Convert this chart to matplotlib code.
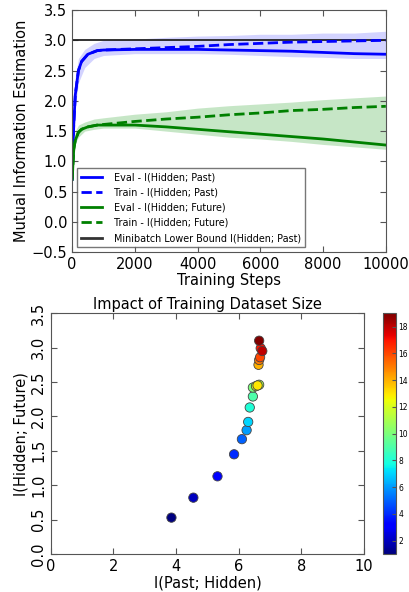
import matplotlib
matplotlib.use('Agg')
import matplotlib.pyplot as plt
import numpy as np

# ─── Data ─────────────────────────────────────────────────────
steps = [0, 50, 100, 200, 300, 500, 800, 1000, 2000, 3000, 4000,
         5000, 6000, 7000, 8000, 9000, 10000]
eval_past = [0.7, 1.6, 2.1, 2.5, 2.65, 2.77, 2.83, 2.84, 2.85, 2.85, 2.85,
             2.84, 2.83, 2.82, 2.80, 2.78, 2.77]
train_past = [0.7, 1.6, 2.1, 2.5, 2.65, 2.77, 2.83, 2.84, 2.86, 2.88, 2.90,
              2.93, 2.95, 2.97, 2.98, 2.99, 3.00]
eval_future = [0.7, 1.2, 1.35, 1.48, 1.53, 1.57, 1.60, 1.60, 1.60, 1.57, 1.53,
               1.49, 1.45, 1.41, 1.37, 1.32, 1.27]
train_future = [0.7, 1.2, 1.35, 1.48, 1.53, 1.57, 1.60, 1.61, 1.66, 1.70, 1.73,
                1.77, 1.80, 1.84, 1.86, 1.89, 1.91]
lower_bound = 3.0

# raw-trace spread (envelopes)
band_x = [0, 100, 200, 400, 700, 1000, 2000, 3000, 4000, 5000, 6000,
          7000, 8000, 9000, 10000]
past_lo = [0.7, 1.9, 2.3, 2.55, 2.70, 2.75, 2.78, 2.78, 2.78, 2.77, 2.75,
           2.73, 2.72, 2.70, 2.70]
past_hi = [0.9, 2.4, 2.7, 2.85, 2.95, 3.00, 3.02, 3.05, 3.07, 3.08, 3.10,
           3.10, 3.12, 3.12, 3.15]
fut_lo = [0.7, 1.30, 1.40, 1.50, 1.53, 1.55, 1.55, 1.50, 1.45, 1.40, 1.37,
          1.33, 1.28, 1.24, 1.20]
fut_hi = [0.85, 1.50, 1.60, 1.65, 1.70, 1.72, 1.78, 1.82, 1.88, 1.92, 1.95,
          1.98, 2.02, 2.05, 2.08]

# dataset size scatter
i_past = [3.85, 4.55, 5.32, 5.85, 6.10, 6.25, 6.30, 6.35, 6.45, 6.45,
          6.65, 6.55, 6.60, 6.63, 6.65, 6.68, 6.70, 6.75, 6.65]
i_future = [0.53, 0.82, 1.13, 1.45, 1.67, 1.80, 1.92, 2.13, 2.29, 2.42,
            2.46, 2.44, 2.45, 2.75, 2.82, 2.86, 2.99, 2.95, 3.10]
size_idx = list(range(1, 20))

EDGE = '#555555'

def style_axes(ax, fs=10.5):
    for s in ax.spines.values():
        s.set_color(EDGE)
    ax.tick_params(direction='in', top=True, right=True, labelsize=fs,
                   color=EDGE, length=4)

fig = plt.figure(figsize=(4.1, 5.92), dpi=100)

# ─── Top: MI over training ───────────────────────────────────
ax1 = fig.add_axes([0.176, 0.574, 0.765, 0.409])
ax1.fill_between(band_x, past_lo, past_hi, color='#9f9fff', alpha=0.45, lw=0)
ax1.fill_between(band_x, fut_lo, fut_hi, color='#8fcf8f', alpha=0.5, lw=0)
ax1.axhline(lower_bound, color='#222222', lw=1.3)
ax1.plot(steps, eval_past, color='blue', lw=2, label='Eval - I(Hidden; Past)')
ax1.plot(steps, train_past, color='blue', lw=2, ls='--', label='Train - I(Hidden; Past)')
ax1.plot(steps, eval_future, color='green', lw=2, label='Eval - I(Hidden; Future)')
ax1.plot(steps, train_future, color='green', lw=2, ls='--', label='Train - I(Hidden; Future)')
ax1.plot([], [], color='#333333', lw=2, label='Minibatch Lower Bound I(Hidden; Past)')
ax1.set_xlim(0, 10000)
ax1.set_ylim(-0.5, 3.5)
ax1.set_xticks([0, 2000, 4000, 6000, 8000, 10000])
ax1.set_xlabel('Training Steps', fontsize=10.5, labelpad=1)
ax1.set_ylabel('Mutual Information Estimation', fontsize=10.5, labelpad=2)
style_axes(ax1)
leg = ax1.legend(loc='lower left', fontsize=6.9, handlelength=2.2,
                 borderpad=0.45, labelspacing=0.55, handletextpad=1.2,
                 fancybox=False, bbox_to_anchor=(0.0, 0.0))
leg.get_frame().set_edgecolor(EDGE)

# ─── Bottom: dataset size scatter ────────────────────────────
ax2 = fig.add_axes([0.124, 0.064, 0.764, 0.407])
sc = ax2.scatter(i_past, i_future, c=size_idx, cmap='jet', vmin=1, vmax=19,
                 s=45, edgecolors='#444444', linewidths=0.6, zorder=3)
ax2.set_xlim(0, 10)
ax2.set_ylim(0, 3.5)
ax2.set_xticks([0, 2, 4, 6, 8, 10])
ax2.set_yticks(np.arange(0, 3.51, 0.5))
ax2.set_title('Impact of Training Dataset Size', fontsize=10.5, pad=3)
ax2.set_xlabel('I(Past; Hidden)', fontsize=10.5, labelpad=1)
ax2.set_ylabel('I(Hidden; Future)', fontsize=10.5, labelpad=2)
style_axes(ax2)
for lab in ax2.get_yticklabels():
    lab.set_rotation(90)
    lab.set_va('center')

cax = fig.add_axes([0.934, 0.064, 0.032, 0.407])
cb = fig.colorbar(sc, cax=cax, ticks=[2, 4, 6, 8, 10, 12, 14, 16, 18])
cb.ax.tick_params(labelsize=5.5, direction='in', color=EDGE, length=3, pad=1.5)
cb.outline.set_edgecolor(EDGE)

fig.savefig('out.png', dpi=100)
